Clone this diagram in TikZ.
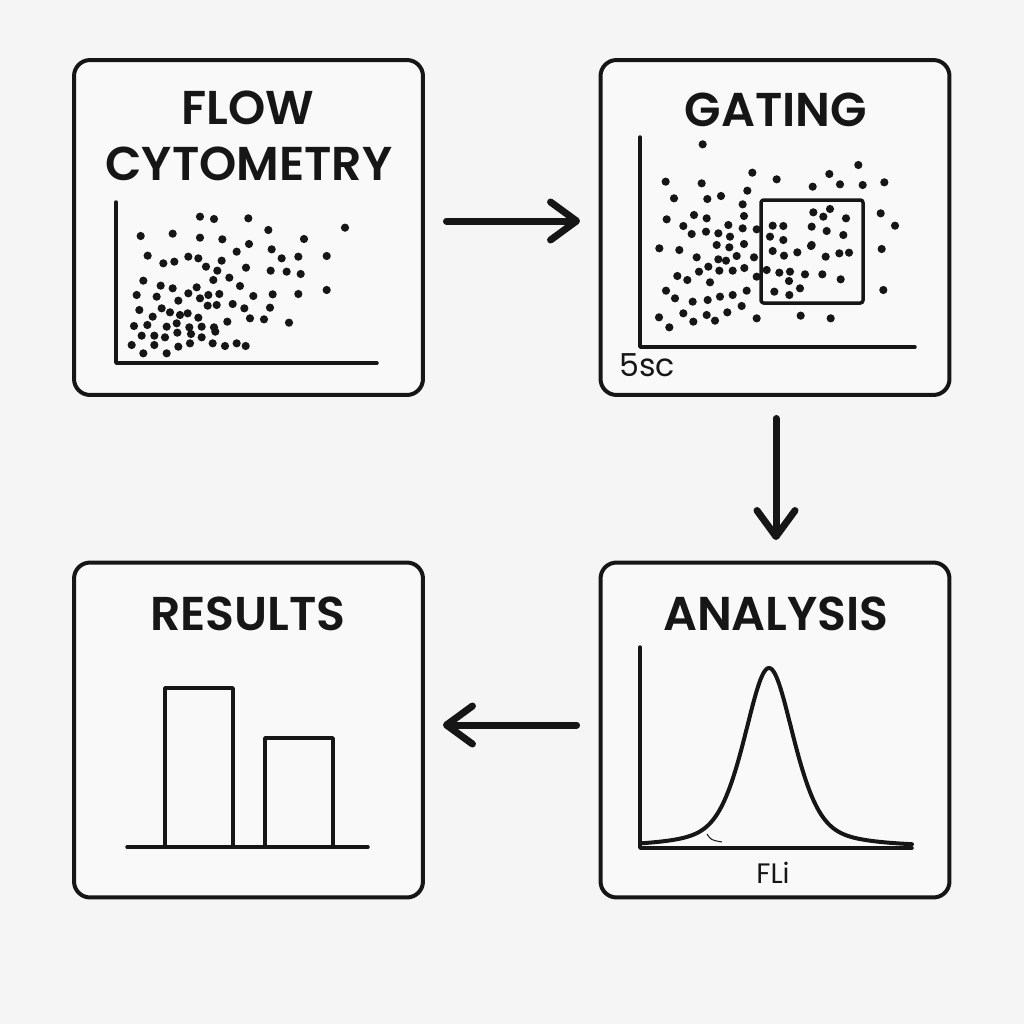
\documentclass[tikz,border=0pt]{standalone}
\usepackage{fontspec}
\setmainfont{Poppins}
\newfontfamily\titlefont{Poppins}[UprightFont=* SemiBold]
\usetikzlibrary{arrows.meta}
\definecolor{bg}{RGB}{245,245,245}
\definecolor{boxfill}{RGB}{249,249,249}
\definecolor{ink}{RGB}{22,22,22}
\begin{document}
\begin{tikzpicture}[x=0.02cm,y=-0.02cm,
  box/.style={draw=ink, fill=boxfill, line width=0.08cm, rounded corners=0.32cm,
    minimum width=6.98cm, minimum height=6.7cm, inner sep=0pt, outer sep=0pt},
  ttl/.style={font=\titlefont\fontsize{27}{30}\selectfont, text=ink, inner sep=0pt},
  lbl/.style={text=ink, inner sep=0pt},
  axis/.style={draw=ink, line width=0.07cm, line cap=round, line join=round},
  flowarrow/.style={draw=ink, line width=0.14cm, line cap=round,
    -{Straight Barb[length=0.52cm,width=0.76cm,round]}}]
\fill[bg] (0,0) rectangle (1024,1024);
\useasboundingbox (0,0) rectangle (1024,1024);

% boxes
\node[box] (flow) at (248.5,227.5) {};
\node[box] (gate) at (775,227.5) {};
\node[box] (res) at (248.5,730) {};
\node[box] (anal) at (775,730) {};

% titles
\node[ttl] (tflow1) at (248,107.5) {FLOW};
\node[ttl] (tflow2) at (249,163.5) {CYTOMETRY};
\node[ttl] (tgate) at (776,110) {GATING};
\node[ttl] (tres) at (248,613.5) {RESULTS};
\node[ttl] (tanal) at (776,613.5) {ANALYSIS};

% flow cytometry scatter
\draw[axis] (116,202) -- (116,363) -- (377,363);
\foreach \a/\b in {420/500,462/507,565/505,855/533,625/540,242/558,338/551,420/563,487/568,567/582,732/567,
  263/617,310/640,343/635,385/620,415/625,485/632,530/605,635/598,665/625,715/620,800/618,438/650,
  472/662,558/653,632/662,680/665,722/672,250/692,302/707,338/715,460/690,508/683,540/708,410/712,385/730,
  230/735,290/740,355/752,420/745,445/735,478/732,580/738,638/733,715/732,800/720,238/780,305/775,330/787,
  360/795,383/790,443/767,470/765,518/762,553/775,630/773,
  278/800,415/803,222/828,262/825,320/830,350/820,388/832,425/830,462/832,502/815,570/805,612/808,687/818,
  245/857,283/857,315/862,352/848,393/852,425/862,466/845,215/885,283/885,250/910,320/910,355/890,390/880,
  458/880,495/888,530/880,557/888}
  \fill[ink] ({60+\a/3},{50+\b/3}) circle[radius=4.1];

% gating scatter
\draw[axis] (640,137) -- (640,347) -- (915,347);
\foreach \a/\b in {338/283,227/395,487/368,560/388,805/345,718/372,750/403,818/405,883/397,668/410,335/400,
  252/445,352/447,393/438,472/422,458/463,230/508,280/528,312/495,350/505,415/525,462/498,458/535,500/538,
  548/527,580/528,665/530,670/487,720/477,700/500,768/505,710/543,760/555,872/490,915/527,208/595,268/600,
  305/552,348/545,385/550,420/560,462/582,380/585,418/592,540/560,580/570,665/585,320/622,355/650,385/628,
  408/632,440/618,492/622,548/603,582/617,622/607,663/588,707/620,748/610,777/608,875/597,
  262/678,292/690,327/665,360/697,388/662,428/662,463/654,530/660,568/668,600/665,645/673,697/673,752/688,
  228/722,255/745,308/755,353/750,390/740,428/735,470/722,500/680,553/725,597/693,630/715,598/735,880/720,
  207/802,238/832,280/790,310/815,350/795,375/812,412/787,455/768,500/805,632/797,722/805}
  \fill[ink] ({590+\a/3},{50+\b/3}) circle[radius=4.1];
\draw[axis, rounded corners=1.5pt] (761,200) rectangle (863,303);
\node[lbl, anchor=base west, font=\fontsize{18}{20}\selectfont] (ssc) at (619,376) {5sc};

% results bars
\draw[axis] (127,847) -- (368,847);
\draw[axis] (165,847) -- (165,688) -- (233,688) -- (233,847);
\draw[axis] (265,847) -- (265,738) -- (333,738) -- (333,847);

% analysis histogram
\draw[axis] (640,647) -- (640,848) -- (912,848);
\draw[axis, line width=0.08cm] plot[domain=640:912, samples=220, smooth]
  (\x, {848-180*(0.5*exp(-0.693*((\x-769)/30)^2)+0.5/(1+((\x-769)/30)^2))});
\draw[ink, line width=0.02cm] (707,834) .. controls (711,840) .. (722,842);
\node[lbl, anchor=base, font=\fontsize{16}{18}\selectfont] (fli) at (773,883) {FLi};

% connectors
\draw[flowarrow, shorten <=0.47cm, shorten >=0.41cm] ([yshift=0.13cm]flow.east) -- ([yshift=0.13cm]gate.west);
\draw[flowarrow, shorten <=0.47cm, shorten >=0.45cm] ([xshift=0.02cm]gate.south) -- ([xshift=0.02cm]anal.north);
\draw[flowarrow, shorten <=0.48cm, shorten >=0.4cm] ([yshift=0.1cm]anal.west) -- ([yshift=0.1cm]res.east);
\end{tikzpicture}
\end{document}
